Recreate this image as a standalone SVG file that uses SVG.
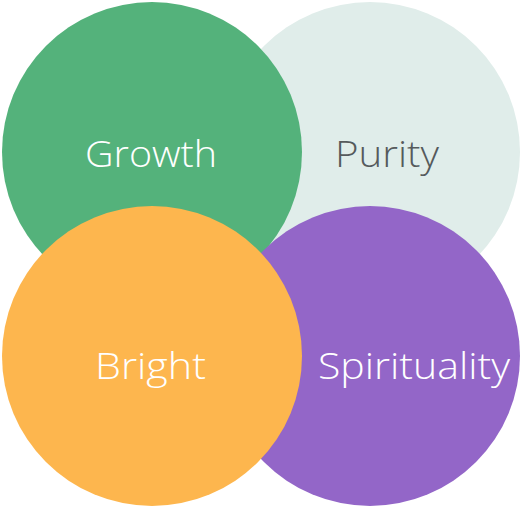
<svg xmlns="http://www.w3.org/2000/svg" width="520" height="506" viewBox="0 0 520 506">
<style>
.lbl{font-family:"Open Sans","Noto Sans","Liberation Sans",sans-serif;font-weight:300;font-size:36px;text-anchor:middle}
.w{fill:#ffffff}
.d{fill:#555a5c}
</style>
<rect width="520" height="506" fill="#ffffff"/>
<g id="purity"><circle cx="370" cy="152" r="150" fill="#e0edea"/></g>
<g id="growth"><circle cx="152" cy="152" r="150" fill="#54b27b"/></g>
<g id="spirituality"><circle cx="370" cy="356" r="150" fill="#9366c8"/></g>
<g id="bright"><circle cx="152" cy="356" r="150" fill="#fdb64e"/></g>
<g id="labels">
<text class="lbl w" x="151" y="167" textLength="132" lengthAdjust="spacingAndGlyphs">Growth</text>
<text class="lbl d" x="387" y="167" textLength="104" lengthAdjust="spacingAndGlyphs">Purity</text>
<text class="lbl w" x="150.5" y="379" textLength="111" lengthAdjust="spacingAndGlyphs">Bright</text>
<text class="lbl w" x="414" y="379" textLength="192" lengthAdjust="spacingAndGlyphs">Spirituality</text>
</g>
<g id="connectors"/>
</svg>
